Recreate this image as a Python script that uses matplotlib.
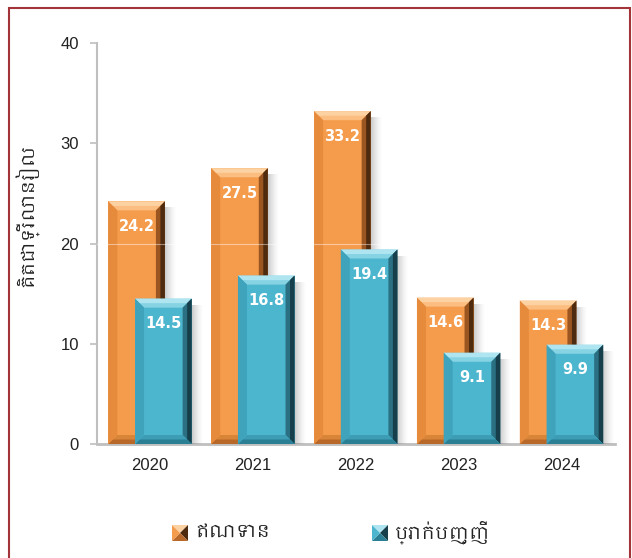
import matplotlib
matplotlib.use("Agg")
import matplotlib.pyplot as plt
from matplotlib import font_manager
from matplotlib.patches import Polygon, Rectangle

# data
years = ["2020", "2021", "2022", "2023", "2024"]
credit = [24.2, 27.5, 33.2, 14.6, 14.3]
deposits = [14.5, 16.8, 19.4, 9.1, 9.9]
series_names = ["ឥណទាន", "ប្រាក់បញ្ញើ"]
ylabel = "គិតជាទ្រីលានរៀល"

# pick a Khmer capable font if the machine has one
khmer = [f.name for f in font_manager.fontManager.ttflist if "khmer" in f.name.lower()]
text_family = sorted(set(khmer)) + ["Noto Sans", "DejaVu Sans"]
plt.rcParams["font.family"] = ["Liberation Sans", "DejaVu Sans"]

# colour sets: face, top (outer/inner), right (outer/inner), bottom, left
orange = dict(face="#F59B4C", top="#FDD2A2", top2="#FBBE80", right="#4E2A0E", right2="#9A5520",
              bottom="#B8692A", bottom2="#D98538", left="#E68A3C")
blue = dict(face="#4DB6CF", top="#AEE5F1", top2="#86D3E4", right="#163F4B", right2="#2A6F82",
            bottom="#2A7F94", bottom2="#3C9DB5", left="#3FA3BC")

W, H = 632, 558
fig = plt.figure(figsize=(W / 100, H / 100), dpi=100)
ax = fig.add_axes([97 / W, 1 - 444 / H, (615 - 97) / W, (444 - 43) / H])
ax.set_xlim(-0.515, 4.52)
ax.set_ylim(0, 40)

# pixel -> data scale factors
px_x = (4.52 + 0.515) / (615 - 97)
px_y = 40 / (444 - 43)
bw = 0.55
off = 0.13
bx, by = 9 * px_x, 9 * px_y


def bevel_bar(x, h, c, z):
    x0, x1 = x - bw / 2, x + bw / 2
    # soft shadow on the right side
    for i in range(11):
        ax.add_patch(Rectangle((x1 + i * px_x, 0), px_x * 1.05, h - 6 * px_y,
                               color="#5a5a5a", alpha=0.3 * (1 - i / 11) ** 1.5,
                               lw=0, zorder=z - 0.5))
    ax.bar(x, h, width=bw, color=c["face"], lw=0, zorder=z)
    hx, hy = bx / 2, by / 2
    polys = [
        ([(x0, h), (x1, h), (x1 - bx, h - by), (x0 + bx, h - by)], c["top2"]),
        ([(x0, h), (x1, h), (x1 - hx, h - hy), (x0 + hx, h - hy)], c["top"]),
        ([(x1, h), (x1, 0), (x1 - bx, by), (x1 - bx, h - by)], c["right2"]),
        ([(x1, h), (x1, 0), (x1 - hx, hy), (x1 - hx, h - hy)], c["right"]),
        ([(x0, 0), (x1, 0), (x1 - bx, by), (x0 + bx, by)], c["bottom2"]),
        ([(x0, 0), (x1, 0), (x1 - hx, hy), (x0 + hx, hy)], c["bottom"]),
        ([(x0, 0), (x0, h), (x0 + bx, h - by), (x0 + bx, by)], c["left"]),
    ]
    for pts, col in polys:
        ax.add_patch(Polygon(pts, closed=True, color=col, lw=0, zorder=z + 0.1))
    ax.text(x, h - 2.5, f"{h:.1f}", color="white", fontsize=10.5, fontweight="bold",
            family="DejaVu Sans", ha="center", va="center", zorder=z + 0.2)


for i, (c_val, d_val) in enumerate(zip(credit, deposits)):
    bevel_bar(i - off, c_val, orange, 3)
    bevel_bar(i + off, d_val, blue, 4)

ax.axhline(20, color="white", alpha=0.45, lw=0.8, zorder=3.5)

ax.set_xticks(range(len(years)))
ax.set_xticklabels(years, fontsize=12, color="#222222")
ax.set_yticks([0, 10, 20, 30, 40])
ax.tick_params(axis="x", length=0, pad=10)
ax.tick_params(axis="y", length=5, width=1.2, color="#BFBFBF", labelsize=12,
               labelcolor="#222222", pad=8)
for s in ["top", "right"]:
    ax.spines[s].set_visible(False)
ax.spines["left"].set_color("#BFBFBF")
ax.spines["left"].set_linewidth(1.5)
ax.spines["bottom"].set_color("#BFBFBF")
ax.spines["bottom"].set_linewidth(2)
ax.set_facecolor("none")

fig.text(27 / W, 1 - 215 / H, ylabel, rotation=90, ha="center", va="center",
         fontsize=13, family=text_family, color="#222222")

# legend with pyramid markers
def pyramid(px, py, size, c):
    x0, y0 = px / W, 1 - (py + size) / H
    x1, y1 = (px + size) / W, 1 - py / H
    cx, cy = (x0 + x1) / 2, (y0 + y1) / 2
    tris = [
        ([(x0, y1), (x1, y1), (cx, cy)], c["top"]),
        ([(x1, y1), (x1, y0), (cx, cy)], c["right"]),
        ([(x0, y0), (x1, y0), (cx, cy)], c["bottom"]),
        ([(x0, y0), (x0, y1), (cx, cy)], c["face"]),
    ]
    for pts, col in tris:
        fig.add_artist(Polygon(pts, closed=True, color=col, lw=0,
                               transform=fig.transFigure))


for (lx, c, name) in [(172, orange, series_names[0]), (372, blue, series_names[1])]:
    pyramid(lx, 525, 16, c)
    fig.text((lx + 23) / W, 1 - 532 / H, name, ha="left", va="center",
             fontsize=13, family=text_family, color="#222222")

# dark red frame around the chart
fig.add_artist(Rectangle((9 / W, -0.05), (630 - 9) / W, 1.05 - 8 / H,
                         fill=False, ec="#A3353A", lw=1.5, transform=fig.transFigure))

fig.savefig("out.png", dpi=100)
